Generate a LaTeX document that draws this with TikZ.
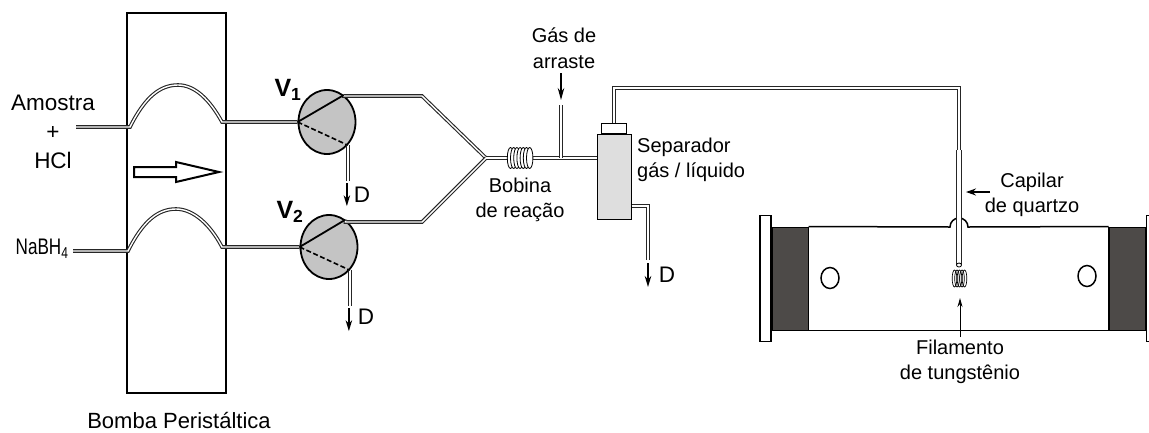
\documentclass[tikz,border=0pt]{standalone}
\usepackage{fontspec}
\setmainfont{Liberation Sans}
\usepackage{xcolor}
\usetikzlibrary{shapes, arrows.meta, positioning, calc}
\definecolor{valvegray}{HTML}{C4C4C4}
\definecolor{sepgray}{HTML}{DEDEDE}
\definecolor{plugdark}{HTML}{4D4A48}
\tikzset{
    tube/.style={
        preaction={draw=black!85,line width=3.6pt},
        draw=white,
        line width=1.4pt,
    },
    widetube/.style={
        preaction={draw=black!85,line width=6.4pt},
        draw=white,
        line width=4pt,
    },
    valve/.style={
        ellipse,
        line width=1.8pt,
        draw=black,
        fill=valvegray,
        inner sep=0pt,
        minimum width=57pt,
        minimum height=64pt,
    },
    wall/.style={
        rectangle,
        draw=black,
        inner sep=0pt,
    },
    txtlabel/.style={
        font=\fontsize{20}{25.5}\selectfont,
        align=center,
        inner sep=0pt,
    },
    biglabel/.style={
        font=\fontsize{22.5}{29}\selectfont,
        align=center,
        inner sep=0pt,
    },
    drain/.style={
        -{Stealth[length=11pt,width=6.5pt]},
        line width=1.6pt,
    },
}

\begin{document}
\begin{tikzpicture}[x=1pt,y=-1pt]
      \useasboundingbox (0,0) rectangle (1149,432);

      \node [wall,line width=2pt,minimum width=99pt,minimum height=380pt] (pump) at (176.5,203) {};
      \draw [line width=2pt,line join=miter] (134,167) -- (176,167) -- (176,162) -- (219,172) -- (176,182) -- (176,177) -- (134,177) -- cycle;

      \coordinate (in1) at (76,127);
      \coordinate (in2) at (73,251);
      \coordinate (bend1) at (422,96);
      \coordinate (bend2) at (422,222);
      \coordinate (junc) at (486,158);
      \coordinate (gasin) at (561,105);
      \coordinate (sepbend) at (648,206);
      \coordinate (sepend) at (648,260);
      \coordinate (capcorner) at (614,88);
      \coordinate (captop) at (959,88);
      \coordinate (capmid) at (959,150);
      \coordinate (capend) at (959,265);

      % tubes through the pump
      \node [valve] (V1) at (327,122) {};
      \node [valve] (V2) at (329,247) {};
      \draw [tube] (in1) -- (130,127) .. controls (145,97) and (160,85) .. (178,85) .. controls (195,85) and (210,100) .. (222,122) -- (V1.west);
      \draw [tube] (in2) -- (128,251) .. controls (143,221) and (158,209) .. (176,209) .. controls (193,209) and (210,224) .. (222,247) -- (V2.west);

      \draw [tube] (V1.58) -- (bend1 -| V1.58) -- (bend1) -- (junc);
      \draw [tube] (V2.59) -- (bend2 -| V2.59) -- (bend2) -- (junc);
      \draw [tube] (V1.-48) -- ++(0,36) coordinate (d1);
      \draw [tube] (V2.-48) -- ++(0,36) coordinate (d2);

      \draw [line width=1.8pt] (V1.west) -- (V1.58);
      \draw [line width=1.6pt,dash pattern=on 5pt off 2.5pt] (V1.west) -- (V1.-48);
      \draw [line width=1.8pt] (V2.west) -- (V2.59);
      \draw [line width=1.6pt,dash pattern=on 5pt off 2.5pt] (V2.west) -- (V2.-48);

      \draw [drain] ($(d1)+(-1,2)$) -- ++(0,23);
      \draw [drain] ($(d2)+(-1,2)$) -- ++(0,23);

      % reaction coil
      \node [wall,line width=1pt,fill=sepgray,minimum width=34pt,minimum height=85pt] (sep) at (614,176.5) {};
      \node [wall,line width=1pt,fill=white,minimum width=25pt,minimum height=10pt,above=0pt of sep] (sepcap) {};
      \draw [tube] (junc) -- (sep.west |- junc);
      \foreach \i in {0,...,6} {
        \draw [line width=0.8pt,fill=white] (510.5+3.2*\i,158) ellipse (3.2 and 10.5);
      }
      \draw [tube] (gasin) -- (gasin |- junc);
      \draw [-{Stealth[length=12pt,width=6.5pt]},line width=1.4pt] (561,73) -- (561,100);
      \draw [tube] (sep.east |- sepbend) -- (sepbend) -- (sepend);
      \draw [drain] (648,263) -- (648,287);

      % atomizer
      \node [wall,line width=1pt,fill=plugdark,minimum width=36pt,minimum height=103pt] (plugL) at (790,278.5) {};
      \node [wall,line width=1pt,fill=plugdark,minimum width=36pt,minimum height=103pt] (plugR) at (1127,278.5) {};
      \node [wall,line width=1.4pt,fill=white,minimum width=11pt,minimum height=126pt,left=0pt of plugL] (flangeL) {};
      \node [wall,line width=1.4pt,fill=white,minimum width=11pt,minimum height=126pt,right=0pt of plugR] (flangeR) {};
      \draw [line width=1.5pt] (plugL.north east) -- (950,227) arc (180:360:9) -- (plugR.north west);
      \draw [line width=1.5pt] (plugL.south east) -- (plugR.south west);
      \draw [line width=1pt] (plugL.north east) -- (plugL.south east);
      \draw [line width=1pt] (plugR.north west) -- (plugR.south west);
      \node [ellipse,draw,line width=1.5pt,inner sep=0pt,minimum width=18pt,minimum height=21pt] (portL) at (830,278) {};
      \node [ellipse,draw,line width=1.5pt,inner sep=0pt,minimum width=18pt,minimum height=21pt] (portR) at (1087,276) {};

      % capillary
      \draw [widetube] (capmid) -- (capend);
      \draw [tube] (sepcap.north) -- (capcorner) -- (captop) -- (capmid);
      \draw [line width=0.8pt,fill=white] (capend) ellipse (2.5 and 2);
      \foreach \i in {0,...,4} {
        \draw [line width=0.7pt] (954.5+2.5*\i,278.5) ellipse (2.3 and 8.5);
      }
      \draw [-{Stealth[length=10pt,width=7pt]},line width=2pt] (990,192) -- (966,192);
      \draw [-{Stealth[length=9pt,width=5pt]},line width=1pt] (960,337) -- (960,298);

      % labels
      \node [biglabel] (amostra) at (53,132) {Amostra\\+\\HCl};
      \node [biglabel,xscale=0.76] (nabh) at (42,249) {NaBH\textsubscript{4}};
      \node [biglabel,font=\fontsize{22}{26}\selectfont] (bomba) at (179,420.5) {Bomba Peristáltica};
      \node [biglabel,font=\bfseries\fontsize{25}{30}\selectfont] (v1lab) at (288,90) {V\textsubscript{1}};
      \node [biglabel,font=\bfseries\fontsize{25}{30}\selectfont] (v2lab) at (290,212) {V\textsubscript{2}};
      \node [biglabel] (d1lab) at (362,195) {D};
      \node [biglabel] (d2lab) at (366,317) {D};
      \node [biglabel] (d3lab) at (667,275) {D};
      \node [txtlabel] (gaslab) at (564,48) {Gás de\\arraste};
      \node [txtlabel] (bobina) at (520,200) {Bobina\\de reação};
      \node [txtlabel,align=left,anchor=west] (seplab) at (637,160) {Separador\\gás / líquido};
      \node [txtlabel] (capilar) at (1032,195) {Capilar\\de quartzo};
      \node [txtlabel] (filamento) at (960,362) {Filamento\\de tungstênio};
\end{tikzpicture}
\end{document}
